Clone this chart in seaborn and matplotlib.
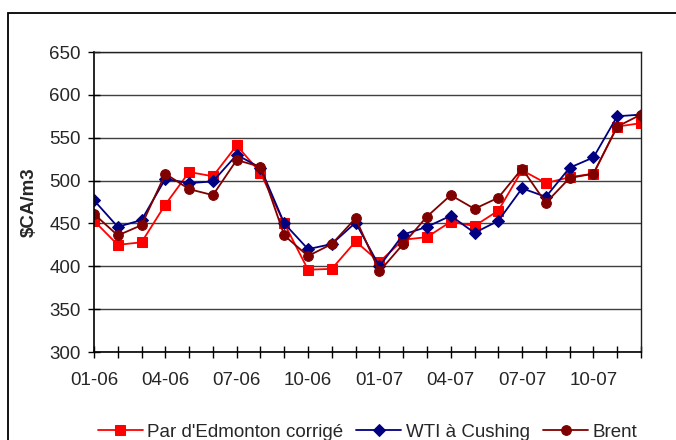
import numpy as np
import pandas as pd
import matplotlib
matplotlib.use('Agg')
import matplotlib.pyplot as plt
from matplotlib.patches import Rectangle
import seaborn as sns

# monthly prices, $CA/m3, Jan 2006 - Dec 2007
months = ['01-06', '02-06', '03-06', '04-06', '05-06', '06-06', '07-06', '08-06',
          '09-06', '10-06', '11-06', '12-06', '01-07', '02-07', '03-07', '04-07',
          '05-07', '06-07', '07-07', '08-07', '09-07', '10-07', '11-07', '12-07']
edmonton = [453, 425, 428, 472, 510, 505, 541, 509, 450, 396, 397, 429,
            405, 431, 434, 452, 447, 465, 512, 497, 504, 508, 563, 567]
wti = [477, 446, 454, 502, 497, 499, 530, 515, 450, 420, 426, 451,
       400, 437, 446, 459, 439, 453, 491, 481, 515, 527, 575, 577]
brent = [461, 436, 448, 508, 490, 483, 524, 516, 436, 412, 426, 456,
         394, 426, 458, 483, 467, 480, 514, 474, 503, 508, 563, 577]

series_names = ["Par d'Edmonton corrigé", 'WTI à Cushing', 'Brent']
series_colors = ['#ff0000', '#000080', '#800000']
series_markers = ['s', 'D', 'o']

df = pd.DataFrame({'mois': np.arange(len(months)),
                   series_names[0]: edmonton,
                   series_names[1]: wti,
                   series_names[2]: brent})

sns.set_style('ticks')
plt.rcParams['font.family'] = ['Liberation Sans', 'DejaVu Sans']

fig = plt.figure(figsize=(6.76, 4.4), dpi=100)
ax = fig.add_axes([94 / 676, 1 - 352 / 440, (641 - 94) / 676, 300 / 440])

sizes = {'s': 6.5, 'D': 6, 'o': 7}
for name, col, mk in zip(series_names, series_colors, series_markers):
    sns.lineplot(data=df, x='mois', y=name, ax=ax, color=col, marker=mk,
                 markersize=sizes[mk], markeredgecolor=col, linewidth=1.3, label=name)

ax.set_xlim(0, len(months) - 1)
ax.set_ylim(300, 650)
ax.set_yticks(np.arange(300, 651, 50))
ax.yaxis.grid(True, color='#404040', linewidth=1)
ax.set_axisbelow(True)

ax.set_xticks(np.arange(0, len(months), 3))
ax.set_xticklabels(months[::3])
ax.set_xticks(np.arange(len(months)), minor=True)

ax.tick_params(axis='x', which='both', direction='inout', length=9, width=1,
               color='black', labelsize=13.5, pad=10)
ax.tick_params(axis='y', direction='inout', length=9, width=1, color='black',
               labelsize=13.5, pad=5)

for s in ['left', 'bottom']:
    ax.spines[s].set_color('black')
    ax.spines[s].set_linewidth(1.2)
for s in ['top', 'right']:
    ax.spines[s].set_visible(True)
    ax.spines[s].set_color('#202020')
    ax.spines[s].set_linewidth(1)

ax.set_xlabel('')
ax.set_ylabel('$CA/m3', fontsize=13.5, fontweight='bold', labelpad=8)

ax.get_legend().remove()
handles, labels = ax.get_legend_handles_labels()
fig.legend(handles, labels, loc='center left', bbox_to_anchor=(90 / 676, 1 - 432 / 440),
           ncol=3, frameon=False, fontsize=13.5, handlelength=2.4,
           handletextpad=0.25, columnspacing=0.7, borderaxespad=0)

# outer chart frame, cropped at right and bottom
fig.patches.append(Rectangle((8 / 676, -0.1), 1.0, 1 - 13 / 440 + 0.1,
                             transform=fig.transFigure, fill=False,
                             edgecolor='black', linewidth=1.3))

# title of the source figure, cut off at the top edge (only descenders show)
fig.text(45 / 676, 1 + 5 / 440, 'Figure 4 : Comparaison des prix du pétrole brut (moyennes)',
         fontsize=14, fontweight='bold', va='baseline', ha='left')

fig.savefig('out.png', dpi=100)
